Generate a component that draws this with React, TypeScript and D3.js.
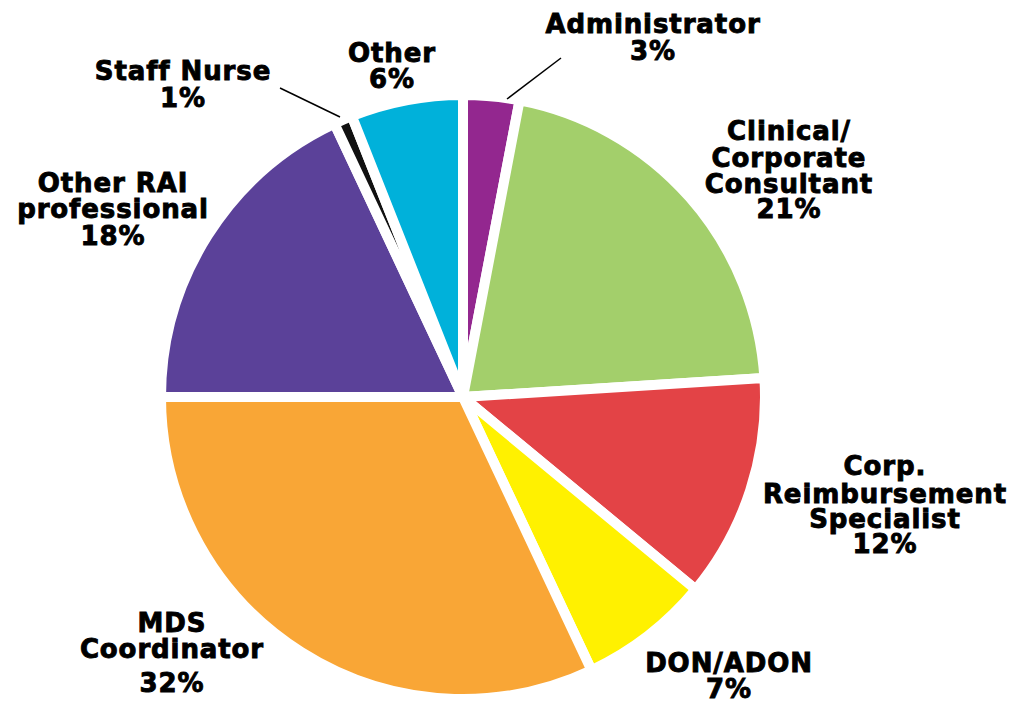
import React from "react";
import * as d3 from "d3";

const categories = [
  "Administrator",
  "Clinical/Corporate Consultant",
  "Corp. Reimbursement Specialist",
  "DON/ADON",
  "MDS Coordinator",
  "Other RAI professional",
  "Staff Nurse",
  "Other",
];
const values = [3, 21, 12, 7, 32, 18, 1, 6];
const colors = ["#93278F", "#A3CF6B", "#E34346", "#FFF100", "#F9A636", "#5B4199", "#111111", "#00B1DA"];

const labelLines = [
  ["Administrator", "3%"],
  ["Clinical/", "Corporate", "Consultant", "21%"],
  ["Corp.", "Reimbursement", "Specialist", "12%"],
  ["DON/ADON", "7%"],
  ["MDS", "Coordinator", "32%"],
  ["Other RAI", "professional", "18%"],
  ["Staff Nurse", "1%"],
  ["Other", "6%"],
];

const W = 1018;
const H = 703;
const cx = 463;
const cy = 397;
const R = 302;

const labelPos: { x: number; y: number; gaps: number[] }[] = [
  { x: 653, y: 33, gaps: [27] },
  { x: 789, y: 140, gaps: [27, 26, 25] },
  { x: 885, y: 475, gaps: [28, 25, 25] },
  { x: 729, y: 672, gaps: [26] },
  { x: 172, y: 632, gaps: [26, 34] },
  { x: 113, y: 192, gaps: [26, 27] },
  { x: 183, y: 80, gaps: [27] },
  { x: 392, y: 62, gaps: [26] },
];

const leaders: { i: number; x1: number; y1: number; x2: number; y2: number }[] = [
  { i: 0, x1: 507, y1: 99, x2: 561, y2: 58 },
  { i: 6, x1: 280, y1: 88, x2: 340, y2: 117 },
];

export default function App() {
  const pie = d3
    .pie<number>()
    .sort(null)
    .value((d) => d)
    .startAngle(0)
    .endAngle(2 * Math.PI);
  const arcs = pie(values);
  const arc = d3.arc<d3.PieArcDatum<number>>().innerRadius(0).outerRadius(R);

  return (
    <svg width={W} height={H} style={{ position: "absolute", left: 0, top: 0, background: "#fff" }}>
      <g transform={`translate(${cx},${cy})`}>
        {arcs.map((a, i) => (
          <path key={categories[i]} d={arc(a) || ""} fill={colors[i]} stroke="#fff" strokeWidth={10} strokeLinejoin="miter" />
        ))}
      </g>
      {leaders.map((l) => (
        <line key={l.i} x1={l.x1} y1={l.y1} x2={l.x2} y2={l.y2} stroke="#000" strokeWidth={1.5} />
      ))}
      {labelLines.map((lines, i) => {
        const p = labelPos[i];
        let y = p.y;
        return (
          <text
            key={categories[i]}
            textAnchor="middle"
            fontFamily="'Arial Black', 'DejaVu Sans', sans-serif"
            fontWeight={700}
            fontSize={26}
            fill="#000"
            stroke="#000"
            strokeWidth={0.9}
            letterSpacing={0.9}
          >
            {lines.map((t, j) => {
              if (j > 0) y += p.gaps[j - 1];
              return (
                <tspan key={j} x={p.x} y={y}>
                  {t}
                </tspan>
              );
            })}
          </text>
        );
      })}
    </svg>
  );
}
